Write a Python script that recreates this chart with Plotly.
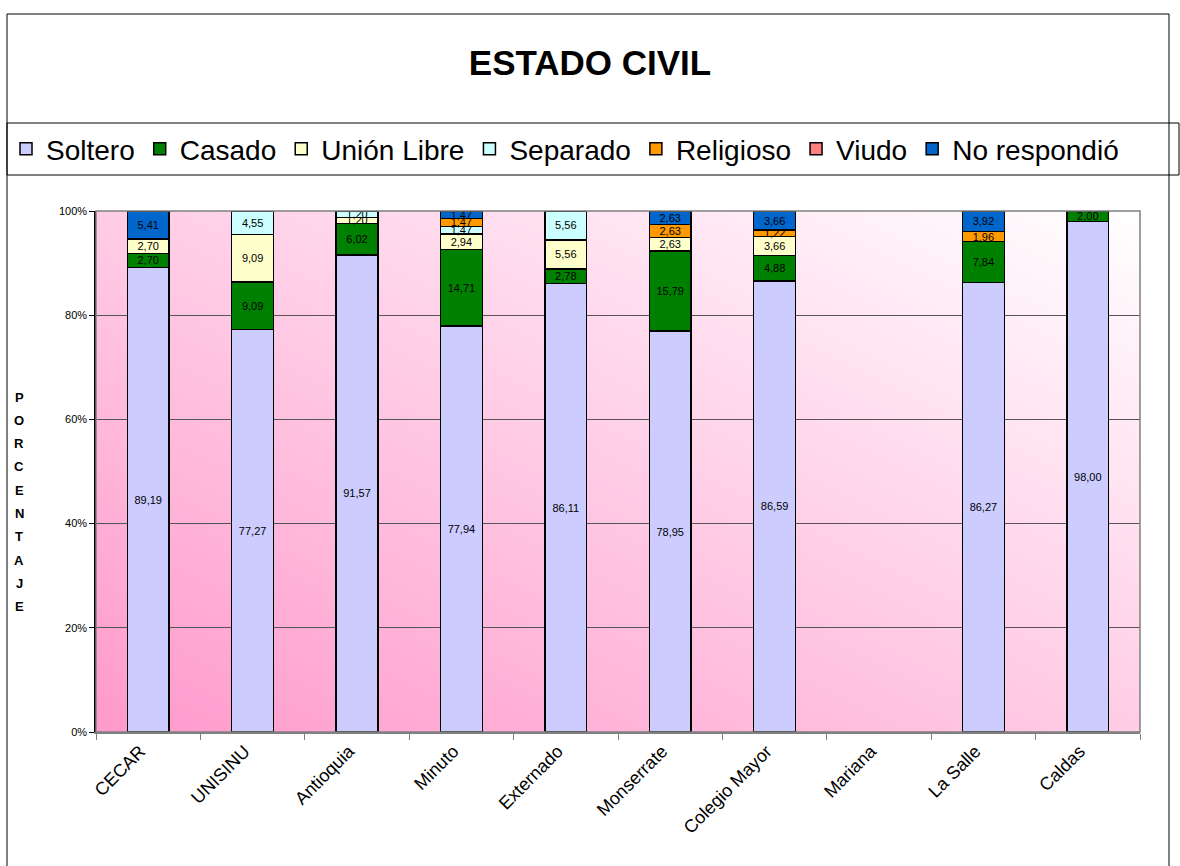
import base64
import plotly.graph_objects as go

categories = ["CECAR", "UNISINU", "Antioquia", "Minuto", "Externado",
              "Monserrate", "Colegio Mayor", "Mariana", "La Salle", "Caldas"]
soltero = [89.19, 77.27, 91.57, 77.94, 86.11, 78.95, 86.59, None, 86.27, 98.00]
casado = [2.70, 9.09, 6.02, 14.71, 2.78, 15.79, 4.88, None, 7.84, 2.00]
union_libre = [2.70, 9.09, 1.20, 2.94, 5.56, 2.63, 3.66, None, None, None]
separado = [None, 4.55, 1.20, 1.47, 5.56, None, None, None, None, None]
religioso = [None, None, None, 1.47, None, 2.63, 1.22, None, 1.96, None]
viudo = [None, None, None, None, None, None, None, None, None, None]
no_respondio = [5.41, None, None, 1.47, None, 2.63, 3.66, None, 3.92, None]

series = [
    ("Soltero", soltero, "#CCCCFF"),
    ("Casado", casado, "#008000"),
    ("Unión Libre", union_libre, "#FFFFCC"),
    ("Separado", separado, "#CCFFFF"),
    ("Religioso", religioso, "#FF9900"),
    ("Viudo", viudo, "#FF8080"),
    ("No respondió", no_respondio, "#0066CC"),
]

FONT = "Arial, Liberation Sans, sans-serif"

W, H = 1180, 866
L, R, T, B = 96, 1140, 211, 732


def px_x(p):
    return (p - L) / (R - L)


def px_y(p):
    return (B - p) / (B - T)


fig = go.Figure()
for name, vals, color in series:
    txt = ["" if v is None else f"{v:.2f}".replace(".", ",") for v in vals]
    fig.add_trace(go.Bar(
        x=categories, y=vals, name=name,
        marker=dict(color=color, line=dict(color="black", width=1.5)),
        text=txt, texttemplate="%{text}", textposition="inside",
        insidetextanchor="middle", textangle=0,
        insidetextfont=dict(color="black", size=11, family=FONT),
    ))

svg = ("<svg xmlns='http://www.w3.org/2000/svg' width='1044' height='521' "
       "preserveAspectRatio='none' viewBox='0 0 1044 521'><defs>"
       "<linearGradient id='g' x1='0' y1='1' x2='1' y2='0'>"
       "<stop offset='0' stop-color='#FF99CC'/>"
       "<stop offset='1' stop-color='#FFFFFF'/>"
       "</linearGradient></defs>"
       "<rect width='1044' height='521' fill='url(#g)'/></svg>")
src = "data:image/svg+xml;base64," + base64.b64encode(svg.encode()).decode()

shapes = [
    # outer frame
    dict(type="rect", xref="paper", yref="paper", x0=px_x(7), x1=px_x(1169),
         y0=px_y(900), y1=px_y(14), line=dict(color="black", width=1)),
    # legend box
    dict(type="rect", xref="paper", yref="paper", x0=px_x(7), x1=px_x(1179),
         y0=px_y(175), y1=px_y(123), line=dict(color="black", width=1),
         fillcolor="white", layer="below"),
    # plot area frame (top/right gray)
    dict(type="rect", xref="paper", yref="paper", x0=0, x1=1, y0=0, y1=1,
         line=dict(color="#808080", width=1.5)),
]

annotations = []
letters = list("PORCENTAJE")
for i, ch in enumerate(letters):
    annotations.append(dict(
        text=f"<b>{ch}</b>", xref="paper", yref="paper",
        x=px_x(19), y=px_y(397 + i * 23.3), showarrow=False,
        xanchor="center", yanchor="middle",
        font=dict(size=13, family=FONT, color="black")))

fig.update_layout(
    width=W, height=H,
    margin=dict(l=L, r=W - R, t=T, b=H - B, autoexpand=False),
    barmode="stack", barnorm="percent", bargap=0.6,
    paper_bgcolor="white", plot_bgcolor="rgba(0,0,0,0)",
    font=dict(family=FONT, color="black"),
    title=dict(text="<b>ESTADO CIVIL</b>", x=0.5, xref="container",
               y=1 - 63 / H, yref="container", xanchor="center",
               yanchor="middle", font=dict(size=35, family=FONT, color="black")),
    legend=dict(orientation="h", x=px_x(6), y=px_y(149), xanchor="left",
                yanchor="middle", font=dict(size=28, family=FONT, color="black"),
                bgcolor="rgba(0,0,0,0)", itemwidth=30, traceorder="normal"),
    uniformtext=dict(mode="show", minsize=11),
    images=[dict(source=src, xref="paper", yref="paper", x=0, y=1,
                 sizex=1, sizey=1, sizing="stretch", xanchor="left",
                 yanchor="top", layer="below")],
    shapes=shapes,
    annotations=annotations,
    showlegend=True,
)
fig.update_xaxes(
    showline=True, linecolor="#808080", linewidth=1.5,
    ticks="outside", tickson="boundaries", ticklen=6, tickcolor="#808080",
    tickangle=-45, tickfont=dict(size=18, family=FONT, color="black"),
    ticklabelshift=-8,
    showgrid=False,
)
fig.update_yaxes(
    range=[0, 100], tickvals=[0, 20, 40, 60, 80, 100],
    ticktext=["0%", "20%", "40%", "60%", "80%", "100%"],
    showline=True, linecolor="black", linewidth=1.5,
    ticks="outside", ticklen=5, tickcolor="black",
    tickfont=dict(size=11, family=FONT, color="black"),
    showgrid=True, gridcolor="#555555", gridwidth=1,
    zeroline=False,
)

fig.write_html(
    "out.html",
    config={"displayModeBar": False},
    post_script="document.body.style.margin='0';document.body.style.overflow='hidden';",
)
